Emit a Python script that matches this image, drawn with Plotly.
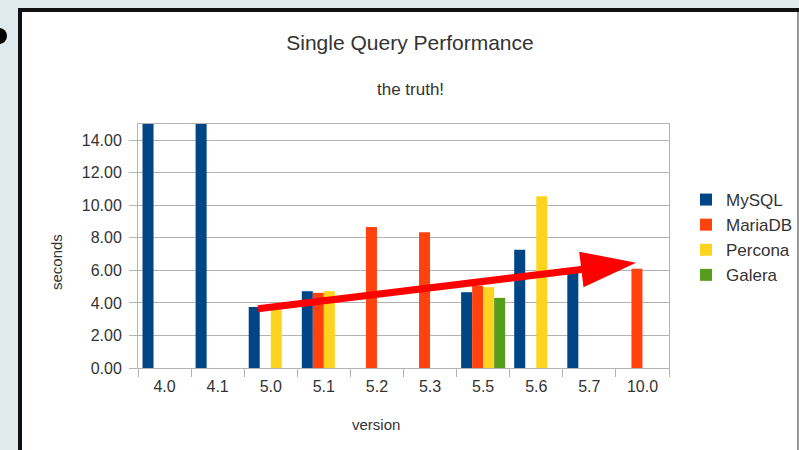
import plotly.graph_objects as go

versions = ["4.0", "4.1", "5.0", "5.1", "5.2", "5.3", "5.5", "5.6", "5.7", "10.0"]
mysql = [15.0, 15.0, 3.75, 4.72, None, None, 4.66, 7.27, 5.9, None]
mariadb = [None, None, None, 4.62, 8.67, 8.35, 5.06, None, None, 6.1]
percona = [None, None, 3.6, 4.72, None, None, 4.97, 10.56, None, None]
galera = [None, None, None, None, None, None, 4.31, None, None, None]

series_names = ["MySQL", "MariaDB", "Percona", "Galera"]
series_colors = ["#004586", "#ff420e", "#ffd320", "#579d1c"]

# trend arrow (category-index units, seconds)
arrow_x = [1.76, 8.0, 8.88]
arrow_y = [3.64, 6.12, 6.47]

FONT = "Liberation Sans, Arial, sans-serif"
TXT = "#333333"
GRID = "#b3b3b3"

fig = go.Figure()
for name, vals, col in zip(series_names, [mysql, mariadb, percona, galera], series_colors):
    fig.add_trace(go.Bar(x=versions, y=vals, name=name, marker_color=col,
                         marker_line_width=0))

# arrow shaft
fig.add_trace(go.Scatter(x=arrow_x[:2], y=arrow_y[:2], xaxis="x2", mode="lines",
                         line=dict(color="#ff0000", width=7), showlegend=False,
                         hoverinfo="skip", cliponaxis=False))
# arrow head
fig.add_trace(go.Scatter(x=arrow_x[1:], y=arrow_y[1:], xaxis="x2", mode="markers",
                         marker=dict(symbol="arrow", angleref="previous", size=[0, 58],
                                     color="#ff0000", opacity=1, line=dict(width=0)),
                         showlegend=False, hoverinfo="skip", cliponaxis=False))

W, H = 799, 450
L, R, T, B = 138, 130, 124, 82
pw, ph = W - L - R, H - T - B

def px(x):
    return (x - L) / pw

def py(y):
    return (H - B - y) / ph

fig.update_layout(
    width=W, height=H,
    margin=dict(l=L, r=R, t=T, b=B, autoexpand=False),
    paper_bgcolor="#e0e9ee",
    plot_bgcolor="rgba(0,0,0,0)",
    barmode="group", bargap=0.17, bargroupgap=0,
    font=dict(family=FONT, color=TXT, size=16),
    title=dict(text="Single Query Performance", x=410 / W, xanchor="center",
               y=1 - 43 / H, yanchor="middle", yref="container",
               font=dict(size=21, color=TXT, family=FONT)),
    xaxis=dict(type="category", showgrid=False, showline=True, linecolor=GRID,
               linewidth=1, mirror=True, ticks="outside", tickson="boundaries",
               ticklen=8, tickcolor=GRID, tickfont=dict(size=16, color=TXT),
               ticklabelstandoff=4, range=[-0.5, 9.5]),
    xaxis2=dict(overlaying="x", range=[-0.5, 9.5], visible=False),
    yaxis=dict(range=[0, 15], dtick=2, tickformat=".2f", showgrid=True,
               gridcolor=GRID, gridwidth=1, showline=True, linecolor=GRID,
               linewidth=1, mirror=True, ticks="outside", ticklen=8,
               tickcolor=GRID, tickfont=dict(size=16, color=TXT),
               ticklabelstandoff=4, zeroline=False),
    legend=dict(x=px(686), y=py(182), xanchor="left", yanchor="top",
                font=dict(size=17, color=TXT, family=FONT),
                bgcolor="rgba(0,0,0,0)", itemwidth=30, tracegroupgap=0),
    showlegend=True,
    shapes=[
        dict(type="rect", xref="paper", yref="paper", layer="below",
             x0=px(20), x1=px(830), y0=py(480), y1=py(10),
             fillcolor="white", line=dict(color="#111111", width=4)),
        dict(type="line", xref="paper", yref="paper", layer="below",
             x0=px(798), x1=px(798), y0=py(480), y1=py(12),
             line=dict(color="#777777", width=1.5)),
        dict(type="circle", xref="paper", yref="paper", layer="below",
             x0=px(-9), x1=px(7), y0=py(44), y1=py(28),
             fillcolor="#000000", line=dict(width=0)),
    ],
    annotations=[
        dict(text="the truth!", xref="paper", yref="paper", x=px(410), y=py(90),
             xanchor="center", yanchor="middle", showarrow=False,
             font=dict(size=17, color=TXT, family=FONT)),
        dict(text="seconds", xref="paper", yref="paper", x=px(56), y=py(262),
             xanchor="center", yanchor="middle", showarrow=False, textangle=-90,
             font=dict(size=15, color=TXT, family=FONT)),
        dict(text="version", xref="paper", yref="paper", x=px(376), y=py(424),
             xanchor="center", yanchor="middle", showarrow=False,
             font=dict(size=15, color=TXT, family=FONT)),
    ],
)

fig.write_html("out.html", config={"displayModeBar": False},
               post_script="document.body.style.margin='0';document.body.style.overflow='hidden';")
